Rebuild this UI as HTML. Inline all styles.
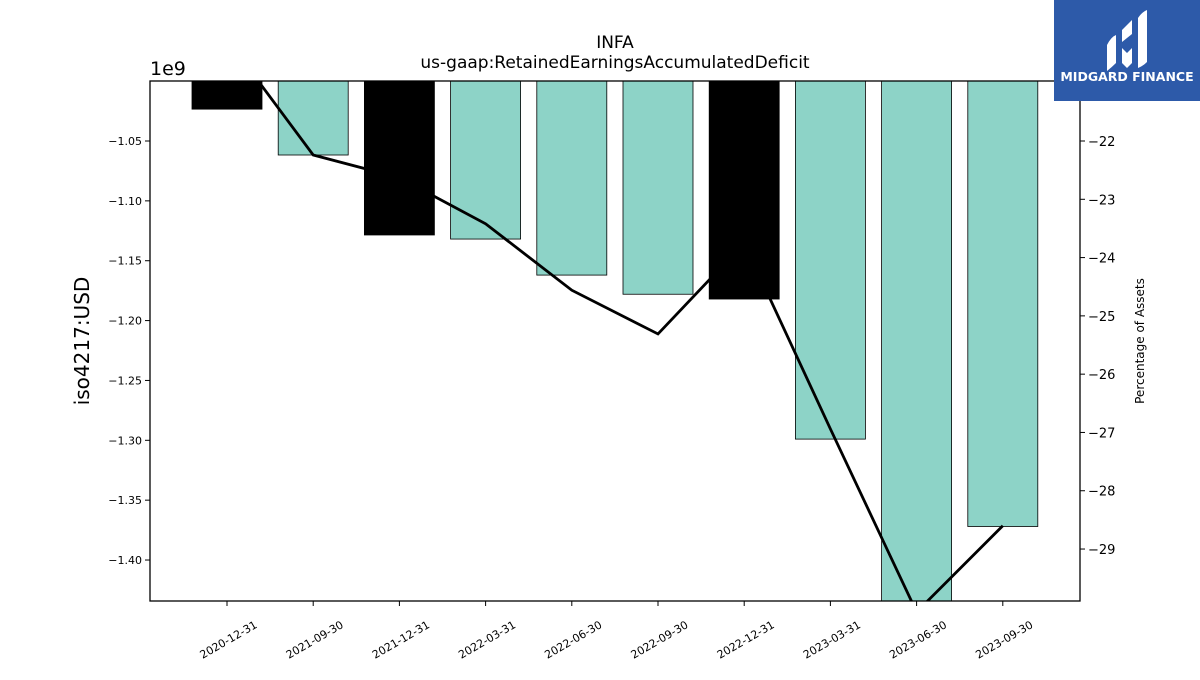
<!DOCTYPE html>
<html><head><meta charset="utf-8"><style>
body{margin:0;background:#fff;}
svg text{font-family:"DejaVu Sans","Liberation Sans",sans-serif;}
</style></head><body>
<svg id="chart" width="1200" height="675" xmlns="http://www.w3.org/2000/svg">
<rect width="1200" height="675" fill="#fff"/>
<text x="615" y="48" font-size="17" text-anchor="middle">INFA</text>
<text x="615" y="68" font-size="17" text-anchor="middle">us-gaap:RetainedEarningsAccumulatedDeficit</text>
<text x="150" y="75" font-size="19">1e9</text>
<text transform="translate(89,341) rotate(-90)" font-size="20" text-anchor="middle">iso4217:USD</text>
<text transform="translate(1144,341) rotate(-90)" font-size="12" text-anchor="middle">Percentage of Assets</text>
<defs><clipPath id="pc"><rect x="150" y="81" width="930" height="520"/></clipPath></defs>
<g id="bar-layer" clip-path="url(#pc)"></g>
<g id="line-layer" clip-path="url(#pc)"></g>
<rect x="150" y="81" width="930" height="520" fill="none" stroke="#000" stroke-width="1.3"/>
<g id="axes"></g>
<g>
<rect x="1054" y="0" width="146" height="101" fill="#2d5aa9"/>
<path d="M1107 45 q4 -8 9 -10 v28 q-4 4 -9 8z M1122 30 l10 -10 v14 l-10 8z M1122 48 l5 5 5 -5 v15 l-5 5 -5 -5z M1138 18 q4 -6 9 -8 v52 q-4 4 -9 6z" fill="#fff"/>
<text x="1127" y="81" font-size="12.5" font-weight="bold" fill="#fff" text-anchor="middle">MIDGARD FINANCE</text>
</g>
</svg>
<script>
const categories=["2020-12-31","2021-09-30","2021-12-31","2022-03-31","2022-06-30","2022-09-30","2022-12-31","2023-03-31","2023-06-30","2023-09-30"];
const barValues=[-1.0234,-1.0617,-1.1285,-1.1319,-1.162,-1.178,-1.182,-1.299,-1.44,-1.372];
const yearEnd=[true,false,true,false,false,false,true,false,false,false];
const pctValues=[-20.25,-22.24,-22.63,-23.42,-24.56,-25.31,-23.75,-26.94,-30.08,-28.6];
const leftTicks=[-1.05,-1.10,-1.15,-1.20,-1.25,-1.30,-1.35,-1.40];
const rightTicks=[-22,-23,-24,-25,-26,-27,-28,-29];
const NS="http://www.w3.org/2000/svg";
const x=i=>227+i*86.2;
const yL=v=>141+(-1.05-v)/0.05*59.86;
const yR=v=>141+(-22-v)*58.29;
function mk(t,a,p){const e=document.createElementNS(NS,t);for(const k in a)e.setAttribute(k,a[k]);p.appendChild(e);return e;}
const bars=document.getElementById('bar-layer'),lines=document.getElementById('line-layer'),axes=document.getElementById('axes');
categories.forEach((c,i)=>{
 const y0=81,y1=yL(barValues[i]);
 const r=mk('rect',{x:x(i)-35,y:y0,width:70,height:y1-y0,fill:yearEnd[i]?'#000':'#8dd3c7',stroke:'#000','stroke-width':0.8},bars);
 
 
 const tk=mk('line',{x1:x(i),x2:x(i),y1:601,y2:606,stroke:'#000'},axes);
 
 
 const t=mk('text',{transform:`translate(${x(i)+31},627) rotate(-30)`,'font-size':11,'text-anchor':'end'},axes);
 
 
 t.textContent=c;
});
const pl=mk('polyline',{points:pctValues.map((v,i)=>x(i)+','+yR(v)).join(' '),fill:'none',stroke:'#000','stroke-width':2.8},lines);


leftTicks.forEach(v=>{
 const tk=mk('line',{x1:145,x2:150,y1:yL(v),y2:yL(v),stroke:'#000'},axes);
 
 
 const t=mk('text',{x:142,y:yL(v)+4,'font-size':11,'text-anchor':'end'},axes);
 
 
 t.textContent='\u2212'+Math.abs(v).toFixed(2);
});
rightTicks.forEach(v=>{
 const tk=mk('line',{x1:1080,x2:1085,y1:yR(v),y2:yR(v),stroke:'#000'},axes);
 
 
 const t=mk('text',{x:1088,y:yR(v)+5,'font-size':13},axes);
 
 
 t.textContent='\u2212'+Math.abs(v);
});
</script>
</body></html>
